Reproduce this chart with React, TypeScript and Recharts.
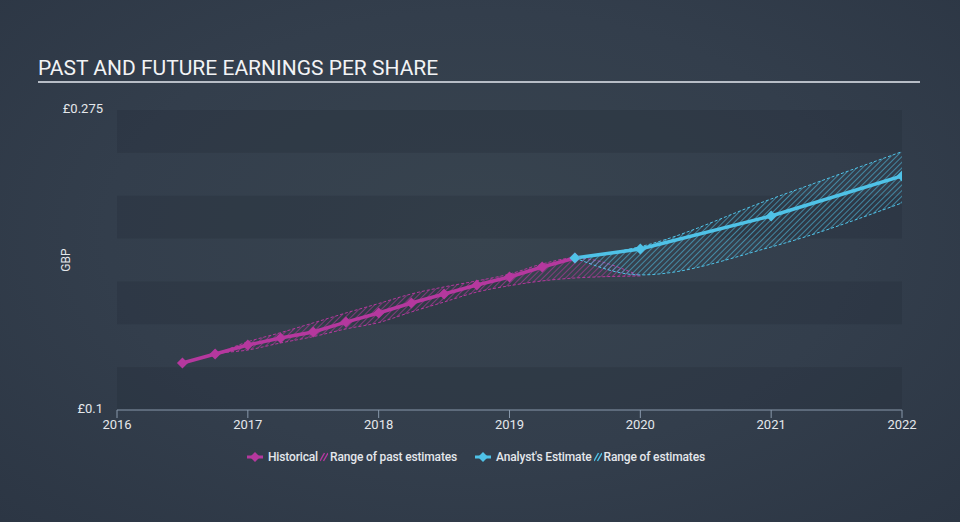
import React from 'react';
import { ComposedChart, Line, Area, XAxis, YAxis, ReferenceArea, Label } from 'recharts';

// quarterly history, in GBP per share
const histYears = [2016.5, 2016.75, 2017, 2017.25, 2017.5, 2017.75, 2018, 2018.25, 2018.5, 2018.75, 2019, 2019.25, 2019.5];
const histEps = [0.1274, 0.1327, 0.1379, 0.142, 0.1455, 0.1513, 0.1566, 0.1624, 0.1677, 0.1729, 0.1776, 0.1834, 0.1887];

// range of past estimates (runs one step further, to 2020)
const pastYears = [...histYears, 2020];
const pastLow = [0.1274, 0.1327, 0.135, 0.1391, 0.1428, 0.1473, 0.151, 0.1572, 0.163, 0.1688, 0.1725, 0.1753, 0.177, 0.1782];
const pastHigh = [0.1274, 0.1327, 0.1398, 0.1451, 0.1508, 0.1566, 0.1621, 0.1677, 0.1718, 0.1753, 0.1793, 0.1852, 0.1887, 0.1782];

// analyst estimates
const estYears = [2019.5, 2020, 2021, 2022];
const estEps = [0.1887, 0.1939, 0.2132, 0.2365];
const estLow = [0.1887, 0.1788, 0.1951, 0.2208];
const estHigh = [0.1887, 0.1953, 0.2231, 0.2507];

const xTicks = [2016, 2017, 2018, 2019, 2020, 2021, 2022];
const yTicks = [0.1, 0.275];
const darkBands = [[0.1, 0.125], [0.15, 0.175], [0.2, 0.225], [0.25, 0.275]];

const PINK = '#b5389e';
const CYAN = '#4fc2e7';
const TEXT = '#e4e7eb';

const histData = histYears.map((t, i) => ({ t, eps: histEps[i] }));
const pastData = pastYears.map((t, i) => ({ t, range: [pastLow[i], pastHigh[i]] }));
const estData = estYears.map((t, i) => ({ t, eps: estEps[i] }));
const estRangeData = estYears.map((t, i) => ({ t, range: [estLow[i], estHigh[i]] }));

const diamond = (color: string) => (props: any) => {
  const { cx, cy, index } = props;
  if (cx == null || cy == null) return <g key={`e-${index}`} />;
  return (
    <polygon
      key={`d-${index}`}
      points={`${cx},${cy - 5.5} ${cx + 5.5},${cy} ${cx},${cy + 5.5} ${cx - 5.5},${cy}`}
      fill={color}
    />
  );
};

const LegendIcon = ({ color }: { color: string }) => (
  <svg width={16} height={10} style={{ marginRight: 5 }}>
    <line x1={0} y1={5} x2={16} y2={5} stroke={color} strokeWidth={3} />
    <polygon points="8,0 13,5 8,10 3,5" fill={color} />
  </svg>
);

const HatchIcon = ({ color }: { color: string }) => (
  <svg width={8} height={10} style={{ marginLeft: 2, marginRight: 2 }}>
    <line x1={0} y1={9} x2={4.5} y2={1} stroke={color} strokeWidth={1.4} />
    <line x1={3.5} y1={9} x2={8} y2={1} stroke={color} strokeWidth={1.4} />
  </svg>
);

export default function App() {
  return (
    <div
      style={{
        position: 'absolute',
        left: 0,
        top: 0,
        width: 960,
        height: 522,
        overflow: 'hidden',
        fontFamily: 'Roboto, "Noto Sans", sans-serif',
        background: 'radial-gradient(ellipse at 50% 45%, #38444f 0%, #333e4c 55%, #2c3644 100%)',
      }}
    >
      <div
        style={{
          position: 'absolute',
          left: 38,
          top: 56,
          width: 882,
          color: '#f2f3f5',
          fontSize: 21,
          lineHeight: '24px',
          paddingBottom: 1,
          borderBottom: '2px solid #b7bdc6',
        }}
      >
        PAST AND FUTURE EARNINGS PER SHARE
      </div>

      <div style={{ position: 'absolute', left: 0, top: 0 }}>
        <ComposedChart width={960} height={522} margin={{ top: 110, right: 58, bottom: 82, left: 0 }}>
          <defs>
            <pattern id="hatchPink" width={4} height={4} patternUnits="userSpaceOnUse" patternTransform="rotate(45)">
              <line x1={0} y1={0} x2={0} y2={4} stroke={PINK} strokeWidth={1.5} strokeOpacity={0.8} />
            </pattern>
            <pattern id="hatchCyan" width={4} height={4} patternUnits="userSpaceOnUse" patternTransform="rotate(45)">
              <line x1={0} y1={0} x2={0} y2={4} stroke={CYAN} strokeWidth={1.5} strokeOpacity={0.75} />
            </pattern>
          </defs>
          {darkBands.map(([y1, y2]) => (
            <ReferenceArea key={y1} y1={y1} y2={y2} fill="#1e2732" fillOpacity={0.25} stroke="none" ifOverflow="hidden" />
          ))}
          <XAxis
            dataKey="t"
            type="number"
            domain={[2016, 2022]}
            ticks={xTicks}
            allowDataOverflow
            stroke="#8898ab"
            tickSize={8}
            tickMargin={2}
            tick={{ fill: TEXT, fontSize: 13 }}
          />
          <YAxis
            type="number"
            domain={[0.1, 0.275]}
            ticks={yTicks}
            allowDataOverflow
            width={117}
            axisLine={false}
            tickLine={false}
            tickSize={0}
            tickMargin={14}
            tick={{ fill: TEXT, fontSize: 13, dy: -2 }}
            tickFormatter={(v: number) => `£${v}`}
          >
            <Label value="GBP" angle={-90} position="center" dx={7} fill={TEXT} fontSize={12} />
          </YAxis>
          <Area
            data={pastData}
            dataKey="range"
            type="monotone"
            stroke={PINK}
            strokeWidth={1}
            strokeDasharray="3 2"
            fill="url(#hatchPink)"
            fillOpacity={1}
            isAnimationActive={false}
          />
          <Area
            data={estRangeData}
            dataKey="range"
            type="monotone"
            stroke={CYAN}
            strokeWidth={1}
            strokeDasharray="3 2"
            fill="url(#hatchCyan)"
            fillOpacity={1}
            isAnimationActive={false}
          />
          <Line
            data={histData}
            dataKey="eps"
            type="linear"
            stroke={PINK}
            strokeWidth={3.5}
            dot={diamond(PINK)}
            activeDot={false}
            isAnimationActive={false}
          />
          <Line
            data={estData}
            dataKey="eps"
            type="linear"
            stroke={CYAN}
            strokeWidth={3.5}
            dot={diamond(CYAN)}
            activeDot={false}
            isAnimationActive={false}
          />
        </ComposedChart>
      </div>

      <div
        style={{
          position: 'absolute',
          left: 247,
          top: 449,
          display: 'flex',
          alignItems: 'center',
          color: TEXT,
          fontSize: 12,
          fontWeight: 500,
          letterSpacing: -0.15,
          lineHeight: '16px',
        }}
      >
        <LegendIcon color={PINK} />
        <span>Historical</span>
        <HatchIcon color={PINK} />
        <span>Range of past estimates</span>
        <span style={{ width: 18 }} />
        <LegendIcon color={CYAN} />
        <span>Analyst's Estimate</span>
        <HatchIcon color={CYAN} />
        <span>Range of estimates</span>
      </div>
    </div>
  );
}
